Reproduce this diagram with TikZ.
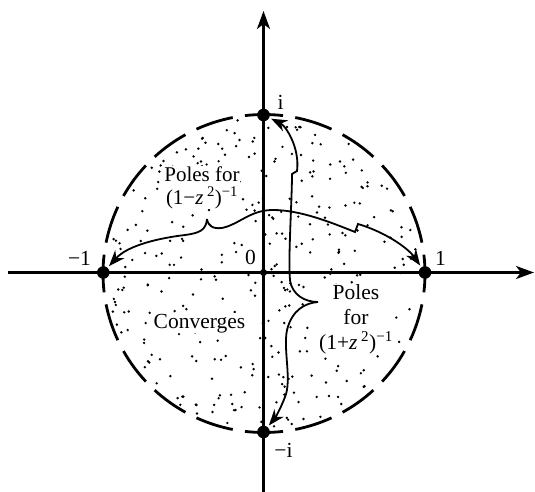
\documentclass[tikz,border=0pt]{standalone}
\usepackage{fontspec}
\setmainfont{Liberation Serif}
\usetikzlibrary{arrows.meta}
\begin{document}
\begin{tikzpicture}[x=1pt,y=-1pt,
  lbl/.style={font=\fontsize{21.5}{24}\selectfont, inner sep=0pt, anchor=base},
  txt/.style={lbl, fill=white, inner sep=0.5pt, align=center},
  pole/.style={circle, fill=black, inner sep=0pt, minimum size=12.6pt},
  orig/.style={circle, fill=black, inner sep=0pt, minimum size=7pt},
  axis/.style={line width=2.7pt, -{Stealth[length=18pt,width=13pt,inset=5pt]}},
  conn/.style={line width=1.8pt, -{Stealth[length=16pt,width=12pt,inset=5pt]}, shorten >=2pt},
  rim/.style={line width=2.8pt},
  stip/.style={fill=black}]
\useasboundingbox (0,0) rectangle (535,492);
% stipple
\pgfmathsetseed{4711}
\foreach \k in {1,...,350}{
  \pgfmathsetmacro\rr{156*sqrt(rnd)}
  \pgfmathsetmacro\tt{360*rnd}
  \fill[stip] (264,273.5) ++({\tt}:\rr) circle (1.35);
}
% texts
\node[txt, font=\fontsize{21}{22.5}\selectfont] (t1) at (202,204)
  {Poles for\\(1−\textit{z}\,\textsuperscript{2})\textsuperscript{−1}};
\node[txt, font=\fontsize{21.5}{25}\selectfont] (t2) at (356,349)
  {Poles\\for\\(1+\textit{z}\,\textsuperscript{2})\textsuperscript{−1}};
\node[txt] (conv) at (199.5,328) {Converges};
% axes
\coordinate (xl) at (8,272.5);
\coordinate (xr) at (534,272.5);
\coordinate (yb) at (263.5,492);
\coordinate (yt) at (263.5,11);
\draw[axis] (xl) -- (xr);
\draw[axis] (yb) -- (yt);
% dashed rim
\foreach \a in {0,18,...,342}{
  \draw[rim] (264,273.5) ++({\a-6.8}:161 and 159)
    arc[start angle={\a-6.8}, end angle={\a+6.8}, x radius=161, y radius=159];
}
% poles
\node[pole] (pm1) at (103.3,272.5) {};
\node[pole] (p1) at (425,272.5) {};
\node[pole] (pi) at (263.5,115) {};
\node[pole] (pmi) at (263.5,432) {};
\node[orig] (o) at (263.5,272.5) {};
% labels
\node[lbl] (lm1) at (79.5,265) {−1};
\node[lbl] (l1) at (440.5,265) {1};
\node[lbl] (li) at (280.5,110) {i};
\node[lbl] (lmi) at (283.5,457) {−i};
\node[lbl] (l0) at (250.5,264) {0};
% connectors
\coordinate (C1) at (207,219);
\coordinate (C2) at (318,302);
\draw[conn] (C1) .. controls (206,230) and (200,233) .. (185,235)
  .. controls (160,238) and (128,245) .. (pm1);
\draw[conn] (C1) .. controls (208,226) and (213,229) .. (222,228)
  .. controls (240,224) and (250,210) .. (273,210)
  .. controls (300,210) and (330,222) .. (355,232) -- (358,224)
  .. controls (385,232) and (408,248) .. (p1);
\draw[conn] (C2) .. controls (305,302) and (292,295) .. (290,280)
  .. controls (288,260) and (292,200) .. (292,174) -- (297,171)
  .. controls (300,148) and (286,126) .. (pi);
\draw[conn] (C2) .. controls (305,303) and (292,310) .. (287,330)
  .. controls (283,350) and (292,380) .. (285,397)
  .. controls (280,410) and (275,418) .. (pmi);
\end{tikzpicture}
\end{document}
